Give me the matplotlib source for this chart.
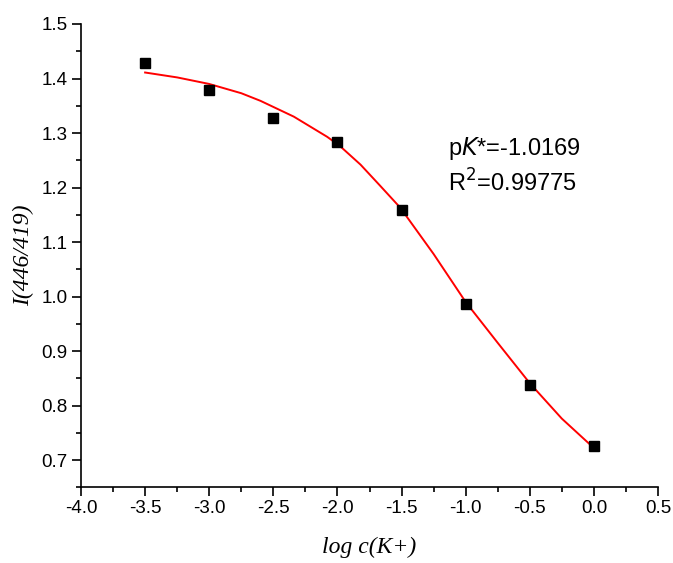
import matplotlib.pyplot as plt
import numpy as np
from matplotlib.ticker import MultipleLocator

# datos medidos
log_c = [-3.5, -3.0, -2.5, -2.0, -1.5, -1.0, -0.5, 0.0]
ratio = [1.428, 1.379, 1.328, 1.284, 1.159, 0.987, 0.838, 0.725]

# curva de ajuste
fit_x = [-3.5, -3.25, -3.0, -2.75, -2.6, -2.34, -2.08, -1.98, -1.82, -1.67,
         -1.51, -1.25, -1.0, -0.75, -0.5, -0.25, 0.0]
fit_y = [1.411, 1.402, 1.390, 1.373, 1.359, 1.330, 1.293, 1.276, 1.242, 1.204,
         1.163, 1.078, 0.990, 0.915, 0.841, 0.776, 0.722]

x_ticks = [-4.0, -3.5, -3.0, -2.5, -2.0, -1.5, -1.0, -0.5, 0.0, 0.5]
y_ticks = [0.7, 0.8, 0.9, 1.0, 1.1, 1.2, 1.3, 1.4, 1.5]

plt.rcParams['font.family'] = ['Liberation Sans', 'DejaVu Sans']

W, H = 673, 563
fig = plt.figure(figsize=(W / 100, H / 100), dpi=100)
ax = fig.add_axes([81 / W, 1 - 487.3 / H, 577 / W, 463.3 / H])

ax.plot(fit_x, fit_y, color="red", lw=1.4, zorder=2)
ax.plot(log_c, ratio, "s", color="black", ms=7.5, zorder=3)

ax.set_xlim(-4.0, 0.5)
ax.set_ylim(0.65, 1.5)
ax.set_xticks(x_ticks)
ax.set_yticks(y_ticks)
ax.xaxis.set_minor_locator(MultipleLocator(0.25))
ax.yaxis.set_minor_locator(MultipleLocator(0.05))
ax.set_xticklabels(["%.1f" % v for v in x_ticks])
ax.set_yticklabels(["%.1f" % v for v in y_ticks])

for s in ["top", "right"]:
    ax.spines[s].set_visible(False)
for s in ["left", "bottom"]:
    ax.spines[s].set_linewidth(1.2)

ax.tick_params(which="major", direction="out", length=6.5, width=1.2,
               labelsize=13.5, pad=3)
ax.tick_params(which="minor", direction="out", length=3.5, width=1.2)

ax.set_xlabel("log c(K+)", family="Liberation Serif", style="italic",
              fontsize=17, labelpad=14)
ax.set_ylabel("I(446/419)", family="Liberation Serif", style="italic",
              fontsize=17, labelpad=5)

ax.text(448 / W, 1 - 155 / H, "p$\\it{K}$*=-1.0169", transform=fig.transFigure,
        fontsize=17, va="baseline")
ax.text(448 / W, 1 - 192 / H, "R$^2$=0.99775", transform=fig.transFigure,
        fontsize=17, va="baseline")

fig.savefig("out.png", dpi=100)
